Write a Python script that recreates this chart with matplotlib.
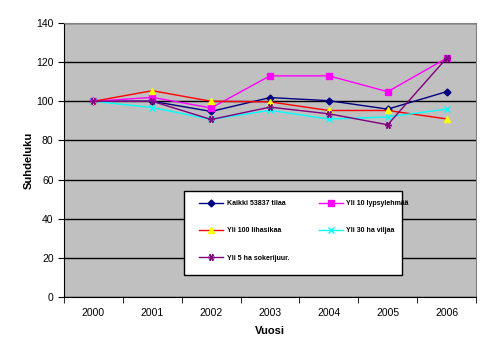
import matplotlib
matplotlib.use('Agg')
import matplotlib.pyplot as plt
from matplotlib.patches import Rectangle
import numpy as np

plt.rcParams['font.family'] = ['Liberation Sans', 'DejaVu Sans']

vuodet = ['2000', '2001', '2002', '2003', '2004', '2005', '2006']
kaikki = [100, 100, 94.8, 101.9, 100.3, 96, 104.9]
lypsy = [100, 102, 96.6, 113, 113, 104.9, 122]
lihasika = [100, 105.4, 100, 99.7, 95.3, 95.3, 91]
vilja = [100, 96.8, 90.7, 95.4, 90.9, 92, 96]
sokeri = [100, 100, 90.7, 97, 93.6, 88, 122]

fig = plt.figure(figsize=(4.97, 3.51), dpi=100)
ax = fig.add_axes([0.1288, 0.1538, 0.8289, 0.7807])
ax.set_facecolor('#C0C0C0')

x = np.arange(len(vuodet))
h1, = ax.plot(x, kaikki, color='#000080', marker='D', markersize=3.5, lw=1, label='Kaikki 53837 tilaa')
h2, = ax.plot(x, lypsy, color='#FF00FF', marker='s', markersize=5, lw=1, label='Yli 10 lypsylehmää')
h3, = ax.plot(x, lihasika, color='#FF0000', marker='^', markersize=5, lw=1,
              markerfacecolor='#FFFF00', markeredgecolor='#FFFF00', label='Yli 100 lihasikaa')
h4, = ax.plot(x, vilja, color='#00FFFF', marker='x', markersize=5, lw=1, mew=1, label='Yli 30 ha viljaa')
h5, = ax.plot(x, sokeri, color='#800080', marker=(6, 2, 90), markersize=5, lw=1, mew=1,
              label='Yli 5 ha sokerijuur.')

ax.set_xlim(-0.5, len(vuodet) - 0.5)
ax.set_ylim(0, 140)
ax.set_yticks(np.arange(0, 141, 20))
ax.set_xticks(x)
ax.set_xticklabels(vuodet)
ax.set_xticks(np.arange(-0.5, len(vuodet), 1), minor=True)
ax.tick_params(axis='x', which='major', length=0, labelsize=7.5, pad=8)
ax.tick_params(axis='x', which='minor', length=4, direction='out')
ax.tick_params(axis='y', labelsize=7.5, length=4, direction='out')
ax.yaxis.grid(True, color='black', lw=1)
ax.set_axisbelow(True)
for s in ax.spines.values():
    s.set_color('black')
ax.spines['top'].set_color('#808080')
ax.spines['right'].set_color('#808080')

ax.set_xlabel('Vuosi', fontsize=8, fontweight='bold', labelpad=6)
ax.set_ylabel('Suhdeluku', fontsize=8, fontweight='bold', labelpad=2)

# selitteen laatikko erikseen
ax.add_patch(Rectangle((0.291, 0.080), 0.529, 0.307, transform=ax.transAxes,
                       facecolor='white', edgecolor='black', lw=1, zorder=5))

# jarjestys niin etta rivit menee kuten alkuperaisessa
kahvat = [h1, h3, h5, h2, h4]
leg = ax.legend(kahvat, [h.get_label() for h in kahvat], loc='upper left',
                bbox_to_anchor=(0.328, 0.353), ncol=2, fontsize=5,
                handlelength=3.5, handletextpad=0.5, frameon=False,
                borderaxespad=0, borderpad=0, labelspacing=2.9, columnspacing=4.2)
leg.set_zorder(6)
for t in leg.get_texts():
    t.set_fontweight('bold')

plt.savefig('out.png', dpi=100)
plt.close()
